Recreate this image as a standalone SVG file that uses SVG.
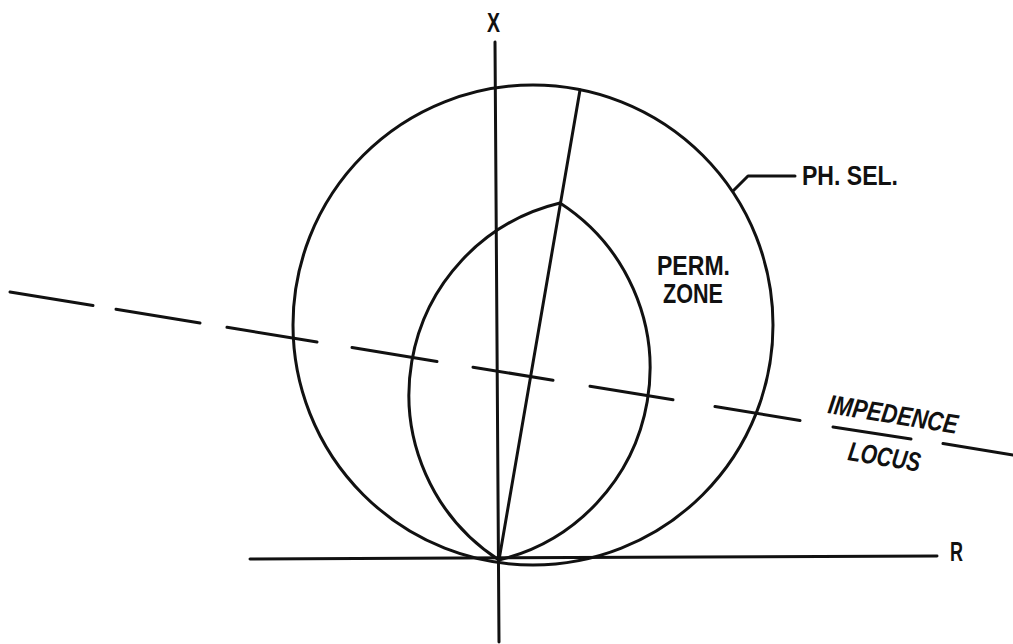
<svg xmlns="http://www.w3.org/2000/svg" width="1013" height="644" viewBox="0 0 1013 644">
<style>
.ln{fill:none;stroke:#111;stroke-width:3;stroke-linecap:round;stroke-linejoin:round}
.lb{font-family:"Liberation Sans","Arial",sans-serif;font-weight:bold;font-size:27px;fill:#111}
.it{font-style:italic}
</style>
<rect width="1013" height="644" fill="#fff"/>
<g id="axes">
<line class="ln" x1="495" y1="42" x2="499" y2="642"/>
<line class="ln" x1="250" y1="559" x2="937" y2="556"/>
<text class="lb" x="487" y="32" textLength="13" lengthAdjust="spacingAndGlyphs">X</text>
<text class="lb" x="950" y="561" textLength="13" lengthAdjust="spacingAndGlyphs">R</text>
</g>
<g id="ph-sel">
<circle class="ln" cx="533" cy="325" r="240"/>
<polyline class="ln" points="733,191 748,176 795,176" stroke-width="2"/>
<text class="lb" x="802" y="185" textLength="96" lengthAdjust="spacingAndGlyphs">PH. SEL.</text>
</g>
<g id="perm-zone">
<path class="ln" d="M499 560 A197 197 0 0 1 560 203 A197 197 0 0 1 499 560"/>
<text class="lb" x="657" y="275" textLength="73" lengthAdjust="spacingAndGlyphs">PERM.</text>
<text class="lb" x="663" y="303" textLength="60" lengthAdjust="spacingAndGlyphs">ZONE</text>
</g>
<g id="connectors">
<line class="ln" x1="499" y1="560" x2="580" y2="90"/>
</g>
<g id="impedance-locus">
<g class="ln">
<line x1="10" y1="292" x2="93" y2="305.5"/>
<line x1="116" y1="309.2" x2="200" y2="322.9"/>
<line x1="227" y1="327.3" x2="317" y2="341.9"/>
<line x1="352" y1="347.6" x2="437" y2="361.4"/>
<line x1="473" y1="367.2" x2="553" y2="380.2"/>
<line x1="590" y1="386.3" x2="673" y2="399.7"/>
<line x1="715" y1="406.6" x2="800" y2="420.4"/>
<line x1="943" y1="443.6" x2="1013" y2="455"/>
<line x1="833" y1="427" x2="911" y2="439"/>
</g>
<text class="lb it" transform="translate(827 413) rotate(9.2)" textLength="131" lengthAdjust="spacingAndGlyphs">IMPEDENCE</text>
<text class="lb it" transform="translate(847 460) rotate(9.2)" textLength="73" lengthAdjust="spacingAndGlyphs">LOCUS</text>
</g>
</svg>
